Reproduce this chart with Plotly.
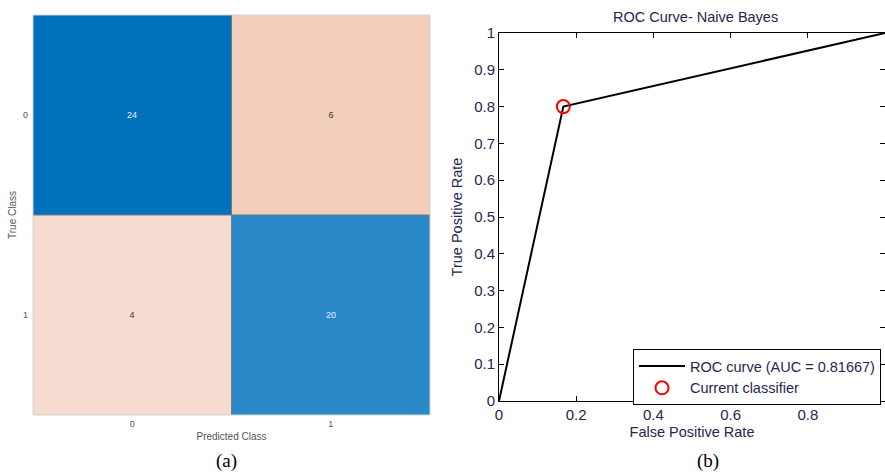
import numpy as np
import plotly.graph_objects as go

# ---- data ----
classes = ["0", "1"]
conf = [[24, 6],
        [4, 20]]
fpr = [0.0, 0.16667, 1.0]
tpr = [0.0, 0.8, 1.0]
op_fpr = [0.16667]
op_tpr = [0.8]
auc = 0.81667
roc_ticks = [0, 0.2, 0.4, 0.6, 0.8]
roc_yticks = [0, 0.1, 0.2, 0.3, 0.4, 0.5, 0.6, 0.7, 0.8, 0.9, 1]

W, H = 885, 475
z = np.array(conf, dtype=float)
diag = np.where(np.eye(2) == 1, z, np.nan)
off = np.where(np.eye(2) == 0, z, np.nan)

fig = go.Figure()
fig.add_trace(go.Heatmap(
    x=classes, y=classes, z=diag, xaxis="x", yaxis="y",
    colorscale=[[0, "#2A87C8"], [1, "#0071BC"]], zmin=20, zmax=24,
    showscale=False, texttemplate="%{z}", hoverinfo="skip",
    textfont=dict(family="Arial", size=9, color="#e8eef6")))
fig.add_trace(go.Heatmap(
    x=classes, y=classes, z=off, xaxis="x", yaxis="y",
    colorscale=[[0, "#F6DCD0"], [1, "#F2CEBB"]], zmin=4, zmax=6,
    showscale=False, texttemplate="%{z}", hoverinfo="skip",
    textfont=dict(family="Arial", size=9, color="#333333")))

fig.add_trace(go.Scatter(
    x=fpr, y=tpr, xaxis="x2", yaxis="y2", mode="lines",
    line=dict(color="black", width=2),
    name=f"ROC curve (AUC = {auc})"))
fig.add_trace(go.Scatter(
    x=op_fpr, y=op_tpr, xaxis="x2", yaxis="y2", mode="markers",
    marker=dict(symbol="circle-open", size=13, color="red", line=dict(width=2)),
    name="Current classifier"))

# divider lines and border for confusion matrix
fig.add_shape(type="line", xref="x", yref="y domain", x0=0.5, x1=0.5, y0=0, y1=1,
              line=dict(color="#7a7a7a", width=1))
fig.add_shape(type="line", xref="x domain", yref="y", x0=0, x1=1, y0=0.5, y1=0.5,
              line=dict(color="#7a7a7a", width=1))
fig.add_shape(type="rect", xref="x domain", yref="y domain", x0=0, x1=1, y0=0, y1=1,
              line=dict(color="#d2d2d2", width=1))

tickfont_cm = dict(family="Arial", size=9, color="#555555")
titlefont_cm = dict(family="Arial", size=10, color="#555555")
dark = "#262650"
tf_roc = dict(family="Arial", size=15, color=dark)
title_roc = dict(family="Arial", size=14.5, color=dark)

fig.update_layout(
    width=W, height=H, margin=dict(l=0, r=0, t=0, b=0, autoexpand=False),
    paper_bgcolor="white", plot_bgcolor="white",
    showlegend=True,
    xaxis=dict(domain=[33 / W, 430 / W], type="category", tickfont=tickfont_cm,
               title=dict(text="Predicted Class", font=titlefont_cm, standoff=4),
               showgrid=False, zeroline=False, ticks="", ticklabelstandoff=2),
    yaxis=dict(domain=[(H - 415) / H, (H - 15) / H], type="category",
               autorange="reversed", tickfont=tickfont_cm,
               title=dict(text="True Class", font=titlefont_cm, standoff=4),
               showgrid=False, zeroline=False, ticks="", ticklabelstandoff=4),
    xaxis2=dict(domain=[499 / W, 1.0], range=[0, 1], anchor="y2",
                tickvals=roc_ticks, ticktext=[f"{v:g}" for v in roc_ticks],
                tickfont=tf_roc, ticks="inside", ticklen=5, tickcolor="black",
                showline=True, linecolor="black", linewidth=1, mirror="ticks",
                showgrid=False, zeroline=False,
                title=dict(text="False Positive Rate", font=title_roc, standoff=4)),
    yaxis2=dict(domain=[(H - 401) / H, (H - 33) / H], range=[0, 1], anchor="x2",
                tickvals=roc_yticks, ticktext=[f"{v:g}" for v in roc_yticks],
                tickfont=tf_roc, ticks="inside", ticklen=5, tickcolor="black",
                showline=True, linecolor="black", linewidth=1, mirror="ticks",
                showgrid=False, zeroline=False,
                title=dict(text="True Positive Rate", font=title_roc, standoff=8)),
    legend=dict(x=633 / W, xanchor="left", y=(H - 349) / H, yanchor="top",
                bgcolor="white", bordercolor="black", borderwidth=1,
                font=dict(family="Arial", size=14.5, color=dark),
                itemwidth=46, tracegroupgap=0),
    annotations=[
        dict(text="ROC Curve- Naive Bayes", x=695 / W, y=(H - 17) / H, xref="paper",
             yref="paper", xanchor="center", yanchor="middle", showarrow=False,
             font=dict(family="Arial", size=14.5, color=dark)),
        dict(text="(a)", x=226 / W, y=(H - 461) / H, xref="paper", yref="paper",
             xanchor="center", yanchor="middle", showarrow=False,
             font=dict(family="Liberation Serif", size=19, color="black")),
        dict(text="(b)", x=708 / W, y=(H - 461) / H, xref="paper", yref="paper",
             xanchor="center", yanchor="middle", showarrow=False,
             font=dict(family="Liberation Serif", size=19, color="black")),
    ],
)

fig.write_html("out.html")
